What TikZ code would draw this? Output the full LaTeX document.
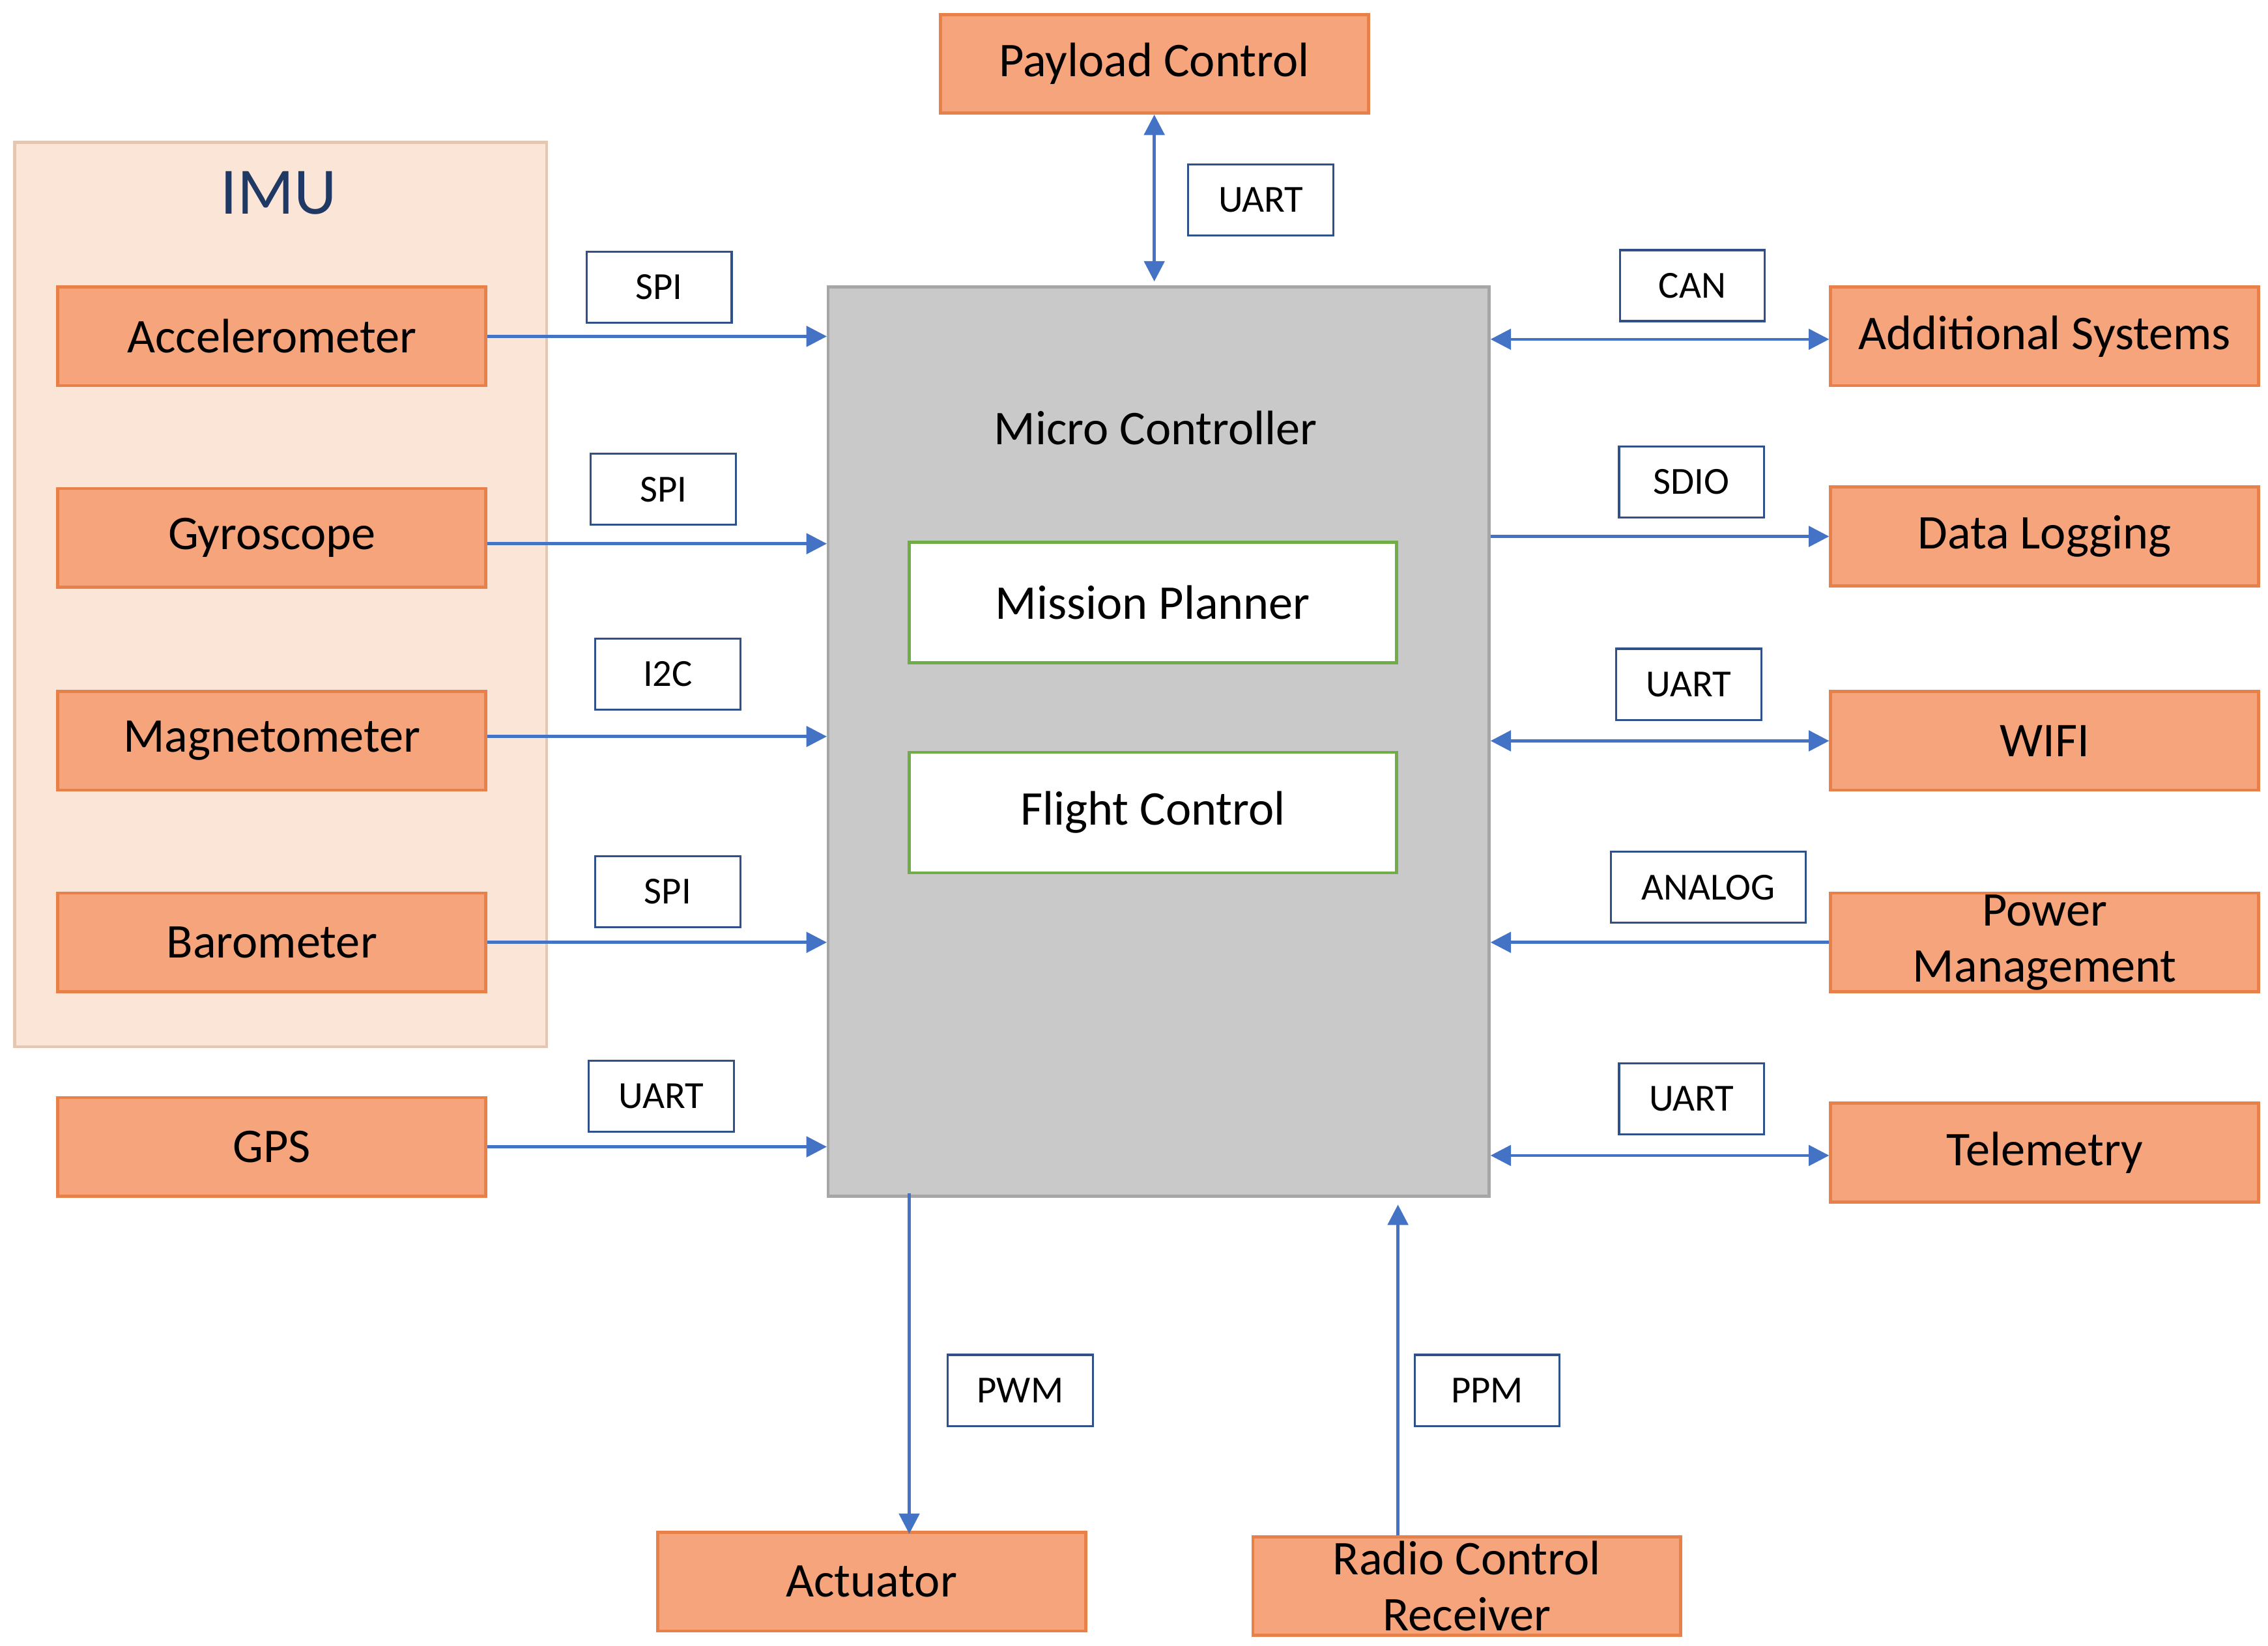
\documentclass[tikz,border=0pt]{standalone}
\usepackage{fontspec}
\setmainfont{Carlito}
\usetikzlibrary{arrows.meta}
\definecolor{org}{HTML}{F5A47C}
\definecolor{orgd}{HTML}{E8804A}
\definecolor{peach}{HTML}{FBE5D6}
\definecolor{peachd}{HTML}{E3C7B3}
\definecolor{arr}{HTML}{4472C4}
\definecolor{grn}{HTML}{70AD47}
\definecolor{navy}{HTML}{1F3864}
\begin{document}
\begin{tikzpicture}[x=0.01cm,y=-0.01cm,
  box/.style={draw=orgd,fill=org,line width=0.6pt,minimum width=2.95cm,minimum height=0.68cm,inner sep=0pt,font=\fontsize{9.5}{11}\selectfont,align=center},
  lbl/.style={draw=arr!70!black,fill=white,line width=0.4pt,minimum width=1cm,minimum height=0.49cm,inner sep=1pt,font=\fontsize{7.5}{9}\selectfont},
  inner/.style={draw=grn,fill=white,line width=0.6pt,minimum width=3.36cm,minimum height=0.83cm,font=\fontsize{9.5}{11}\selectfont},
  a/.style={draw=arr,line width=0.6pt,-{Triangle[length=4pt,width=4pt]}},
  ab/.style={draw=arr,line width=0.6pt,{Triangle[length=4pt,width=4pt]}-{Triangle[length=4pt,width=4pt]}}]
\useasboundingbox (0,0) rectangle (1564,1135);
% IMU
\draw[fill=peach,draw=peachd,line width=0.6pt] (10,98) rectangle (377,722);
\node[text=navy,font=\fontsize{13}{15}\selectfont] (imu) at (192,133) {IMU};
% micro controller
\draw[fill=black!21,draw=black!35,line width=0.6pt] (571,198) rectangle (1027,825);
\coordinate (mcnw) at (571,198);
\node[minimum width=4.56cm,minimum height=6.27cm,inner sep=0pt] (mc) at (799,511.5) {};
\node[font=\fontsize{9.5}{11}\selectfont] (mct) at (797,295) {Micro Controller};
\node[inner] (mp) at (795,415.5) {Mission Planner};
\node[inner] (fc) at (795,560.5) {Flight Control};
% left
\node[box] (acc) at (187.5,232) {Accelerometer};
\node[box] (gyr) at (187.5,371) {Gyroscope};
\node[box] (mag) at (187.5,511) {Magnetometer};
\node[box] (bar) at (187.5,650) {Barometer};
\node[box] (gps) at (187.5,791) {GPS};
% right
\node[box] (add) at (1410,232) {Additional Systems};
\node[box] (dl) at (1410,370) {Data Logging};
\node[box] (wifi) at (1410,511) {WIFI};
\node[box] (pm) at (1410,650) {Power\\Management};
\node[box] (tel) at (1410,795) {Telemetry};
% top/bottom
\node[box] (pay) at (796,44) {Payload Control};
\node[box] (act) at (601,1091) {Actuator};
\node[box] (rc) at (1011.5,1094) {Radio Control\\Receiver};
% labels
\node[lbl] (l1) at (869.5,138) {UART};
\node[lbl] (l2) at (454.5,198) {SPI};
\node[lbl] (l3) at (457.5,337.5) {SPI};
\node[lbl] (l4) at (460.5,465) {I2C};
\node[lbl] (l5) at (460.5,615) {SPI};
\node[lbl] (l6) at (456,756) {UART};
\node[lbl] (l7) at (1167,197) {CAN};
\node[lbl] (l8) at (1166.5,332.5) {SDIO};
\node[lbl] (l9) at (1164.5,472) {UART};
\node[lbl,minimum width=1.34cm] (l10) at (1178,612) {ANALOG};
\node[lbl] (l11) at (1166.5,758) {UART};
\node[lbl] (l12) at (703.5,959) {PWM};
\node[lbl] (l13) at (1025.5,959) {PPM};
% arrows
\draw[a] (acc.east) -- (acc.east -| mc.west);
\draw[a] ([yshift=-0.04cm]gyr.east) -- ([yshift=-0.04cm]gyr.east -| mc.west);
\draw[a] ([yshift=0.03cm]mag.east) -- ([yshift=0.03cm]mag.east -| mc.west);
\draw[a] (bar.east) -- (bar.east -| mc.west);
\draw[a] (gps.east) -- (gps.east -| mc.west);
\draw[ab] (pay.south) -- ([yshift=0.03cm]pay.south |- mc.north);
\draw[ab] ([yshift=-0.02cm]add.west) -- ([yshift=-0.02cm]add.west -| mc.east);
\draw[a] (dl.west -| mc.east) -- (dl.west);
\draw[ab] (wifi.west) -- (wifi.west -| mc.east);
\draw[a] (pm.west) -- (pm.west -| mc.east);
\draw[ab] ([yshift=-0.02cm]tel.west) -- ([yshift=-0.02cm]tel.west -| mc.east);
\draw[a] (act.north -| 627,0) ++(0,-233) coordinate (aa) (aa) -- (627,1058) coordinate (ab);
\draw[a] (rc.north -| 964,0) -- ([yshift=-0.05cm]mc.south -| 964,0);
\end{tikzpicture}
\end{document}
